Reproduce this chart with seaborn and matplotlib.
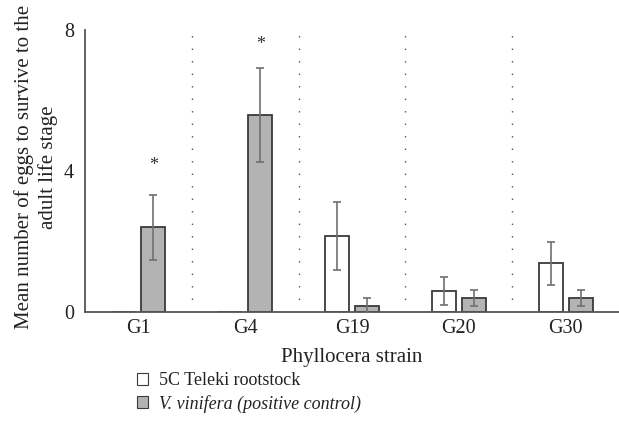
import matplotlib
matplotlib.use("Agg")
import matplotlib.pyplot as plt
import seaborn as sns
import pandas as pd
import numpy as np

strains = ["G1", "G4", "G19", "G20", "G30"]
groups = ["5C Teleki rootstock", "V. vinifera (positive control)"]
teleki_mean = [0.0, 0.0, 2.16, 0.59, 1.38]
teleki_err = [0.0, 0.0, 0.97, 0.40, 0.61]
vinifera_mean = [2.40, 5.59, 0.18, 0.39, 0.39]
vinifera_err = [0.93, 1.33, 0.21, 0.23, 0.23]
star_strains = ["G1", "G4"]
star_y = [4.15, 7.6]

sns.set_style("white")
plt.rcParams["font.family"] = ["Liberation Serif", "DejaVu Serif"]

df = pd.DataFrame({
    "strain": strains * 2,
    "group": [groups[0]] * 5 + [groups[1]] * 5,
    "mean": teleki_mean + vinifera_mean,
    "err": teleki_err + vinifera_err,
})

fig = plt.figure(figsize=(6.19, 4.42), dpi=100)
ax = fig.add_axes([85 / 619, 1 - 312 / 442, 534 / 619, 282 / 442])

sns.barplot(data=df, x="strain", y="mean", hue="group", order=strains,
            hue_order=groups, palette=["white", "#b3b3b3"], width=0.56,
            gap=0.2, edgecolor="#3a3a3a", linewidth=1.3, errorbar=None,
            ax=ax, legend=True)

# error bars at bar centers
for cont, g in zip(ax.containers, groups):
    sub = df[df["group"] == g].set_index("strain").loc[strains]
    xs = [p.get_x() + p.get_width() / 2 for p in cont.patches]
    for x, m, e in zip(xs, sub["mean"], sub["err"]):
        if e > 0:
            ax.errorbar(x, m, yerr=e, color="#707070", capsize=2.6,
                        elinewidth=1.2, capthick=1.2, fmt="none", zorder=5)

for s, y in zip(star_strains, star_y):
    i = strains.index(s)
    ax.text(i + 0.14, y, "*", ha="center", va="center", fontsize=13,
            color="#333333")

for b in np.arange(0.5, len(strains) - 0.5, 1.0):
    ax.axvline(b, color="#555555", linestyle=(0, (1, 8)), linewidth=1.0,
               ymin=0, ymax=1)

ax.set_xlim(-0.5, 4.5)
ax.set_ylim(0, 8)
ax.set_yticks([0, 4, 8])
ax.tick_params(axis="both", length=0, labelsize=14.5, colors="#222222")
ax.tick_params(axis="y", pad=8)
ax.tick_params(axis="x", pad=5)
sns.despine(ax=ax, top=True, right=True)
for sp in ["left", "bottom"]:
    ax.spines[sp].set_color("#555555")
    ax.spines[sp].set_linewidth(1.3)

ax.set_xlabel("Phyllocera strain", fontsize=15, color="#222222", labelpad=7)
ax.set_ylabel("Mean number of eggs to survive to the\nadult life stage",
              fontsize=15, color="#222222", linespacing=1.3)
ax.yaxis.set_label_coords((58 - 85) / 534, 0.515)

leg = ax.legend(loc="upper left", frameon=False, fontsize=13,
                handlelength=0.6, handleheight=0.6, handletextpad=0.6,
                labelspacing=0.3, borderaxespad=0)
leg.set_bbox_to_anchor((130 / 619, 1 - 365 / 442), transform=fig.transFigure)
for h in leg.legend_handles:
    h.set_linewidth(0.8)
leg.get_texts()[1].set_style("italic")
for t in leg.get_texts():
    t.set_color("#222222")

fig.savefig("out.png", dpi=100)
